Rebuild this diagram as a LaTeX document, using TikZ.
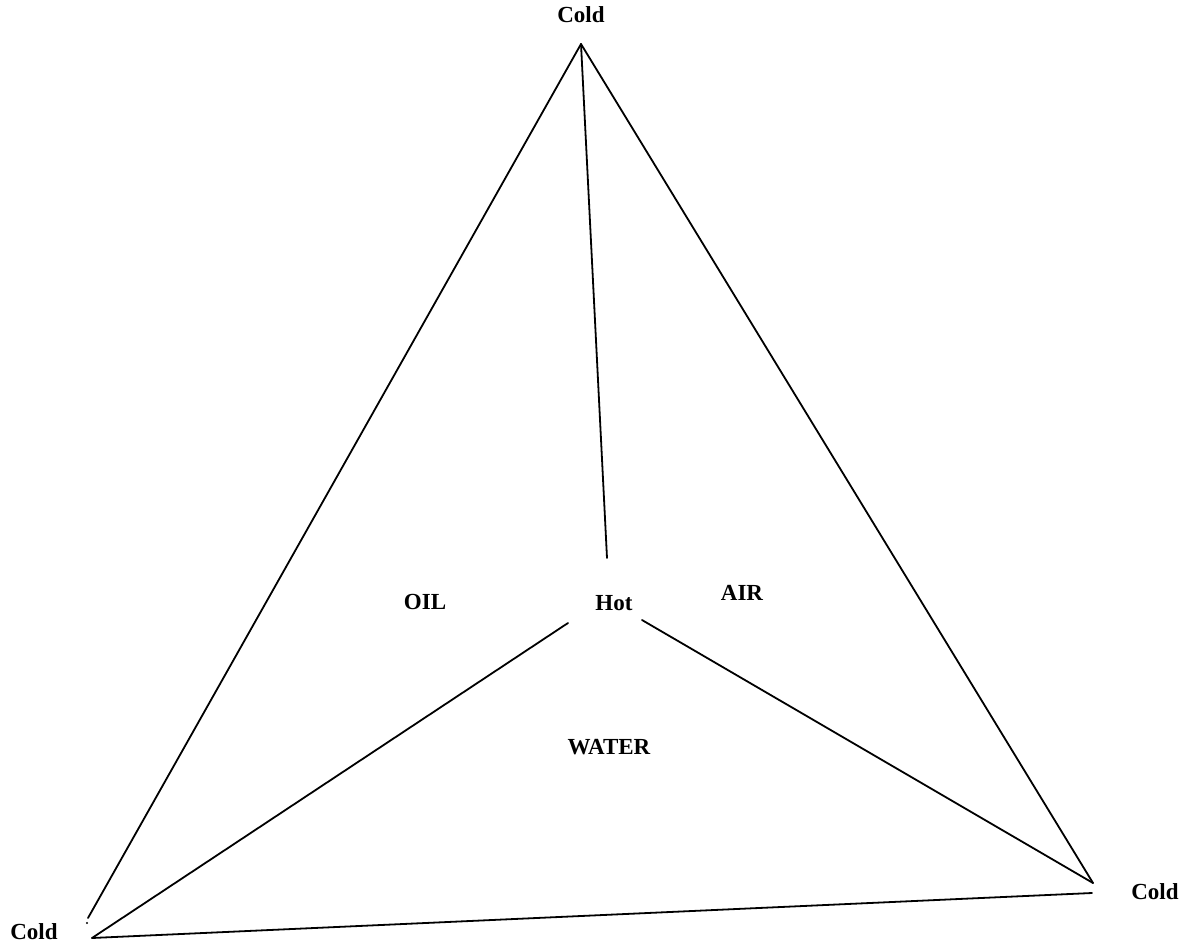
\documentclass[tikz,border=0pt]{standalone}
\usepackage{fontspec}
\setmainfont{Liberation Serif}
\begin{document}
\begin{tikzpicture}[x=1pt,y=-1pt,
  lbl/.style={font=\bfseries\fontsize{23}{26}\selectfont, inner sep=0pt},
  edge/.style={line width=1.8pt, line cap=round}]
\useasboundingbox (0,0) rectangle (1191,948);
% vertices
\coordinate (T) at (581,44);
\coordinate (BL) at (92,938);
\coordinate (BLs) at (88,918);
\coordinate (BR) at (1093,883);
\coordinate (BRb) at (1092,893);
\coordinate (Ht) at (607,558);
\coordinate (Hl) at (568,623);
\coordinate (Hr) at (642,620);
% labels
\node[lbl] (coldT) at (581,15) {Cold};
\node[lbl] (coldL) at (34,932) {Cold};
\node[lbl] (coldR) at (1155,892) {Cold};
\node[lbl] (hot) at (614,603) {Hot};
\node[lbl] (oil) at (425,602) {OIL};
\node[lbl] (air) at (742,593) {AIR};
\node[lbl] (water) at (609,747) {WATER};
% edges
\draw[edge] (T) -- (Ht);
\draw[edge] (T) -- (BLs);
\fill (87,923) circle (1.2pt);
\draw[edge] (T) -- (BR);
\draw[edge] (BL) -- (BRb);
\draw[edge] (BL) -- (Hl);
\draw[edge] (Hr) -- (BR);
\end{tikzpicture}
\end{document}
